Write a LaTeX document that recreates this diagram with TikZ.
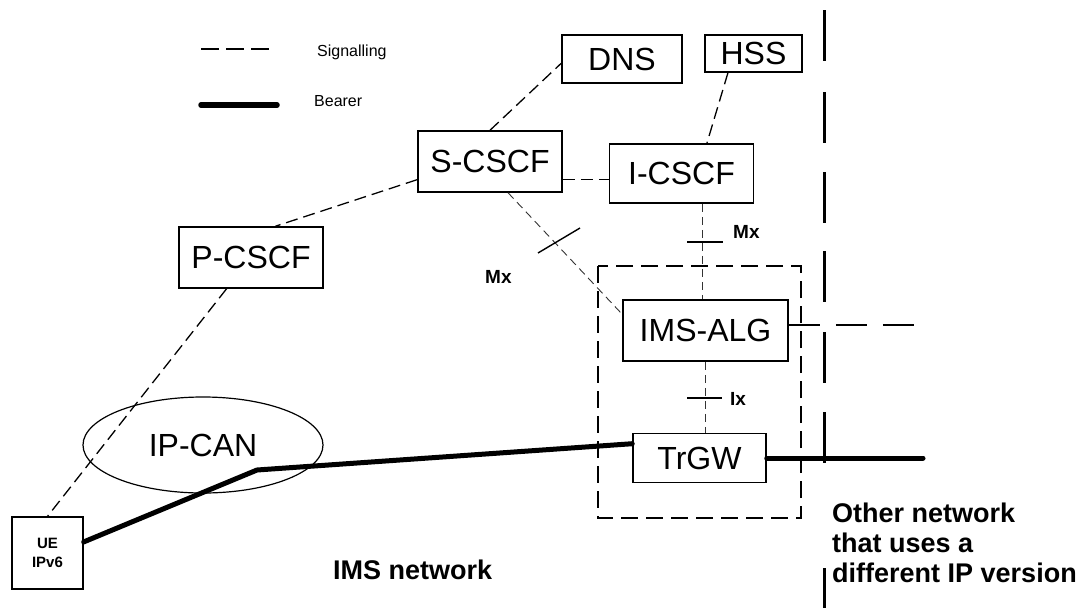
\documentclass[tikz,border=0pt]{standalone}
\usepackage{fontspec}
\setmainfont{Liberation Sans}
\usetikzlibrary{positioning, shapes.geometric, calc}
\tikzset{
box/.style={draw, line width=1.5pt, inner sep=0pt, font=\fontsize{32}{36}\selectfont}, % network elements
sig/.style={line width=1.3pt, dash pattern=on 12pt off 6pt}, % signalling links
thinsig/.style={line width=0.9pt, dash pattern=on 8pt off 5pt, black!80},
bearer/.style={line width=5pt, line cap=round}, % bearer path
tick/.style={line width=1.4pt},
iface/.style={font=\bfseries\fontsize{19}{22}\selectfont, inner sep=0pt, anchor=west},
bigtext/.style={font=\bfseries\fontsize{27}{30}\selectfont, inner sep=0pt, anchor=west},
legendtext/.style={font=\fontsize{16}{19}\selectfont, inner sep=0pt, anchor=west},
border/.style={line width=3pt},
}

\begin{document}
\begin{tikzpicture}[x=1pt, y=-1pt]
    \useasboundingbox (0,0) rectangle (1083,608);
    % legend
    \coordinate (siglegend) at (201,49);
    \coordinate (bearerlegend) at (201,105);
    \draw[sig, dash pattern=on 18pt off 7pt] (siglegend) -- ++(68,0);
    \draw[bearer, line width=5.5pt] (bearerlegend) -- ++(76,0);
    \node[legendtext] (sigtext) at (317,52) {Signalling};
    \node[legendtext] (bearertext) at (314,101) {Bearer};

    % network elements
    \node[box, minimum width=120pt, minimum height=48pt] (dns) at (622,59) {DNS};
    \node[box, minimum width=97pt, minimum height=37pt] (hss) at (753.5,53.5) {HSS};
    \node[box, minimum width=144pt, minimum height=61pt] (scscf) at (490,161.5) {S-CSCF};
    \node[box, minimum width=144pt, minimum height=59pt] (icscf) at (681.5,173.5) {I-CSCF};
    \node[box, minimum width=144pt, minimum height=61pt] (pcscf) at (251,257.5) {P-CSCF};
    \node[box, minimum width=165pt, minimum height=61pt] (alg) at (705.5,330.5) {IMS-ALG};
    \node[box, minimum width=133pt, minimum height=49pt] (trgw) at (699.5,458) {TrGW};
    \node[box, line width=1.3pt, minimum width=71pt, minimum height=72pt, align=center,
          font=\bfseries\fontsize{15}{19}\selectfont] (ue) at (47.5,553) {UE\\IPv6};
    \node[draw, ellipse, line width=1.2pt, inner sep=0pt, minimum width=240pt, minimum height=96pt,
          font=\fontsize{32}{36}\selectfont] (ipcan) at (203,445) {IP-CAN};

    % signalling
    \draw[sig] (scscf.194) -- (pcscf.52);
    \draw[sig] (scscf.north) -- (dns.184);
    \draw[sig] (scscf.-14) -- (scscf.-14 -| icscf.west);
    \draw[sig] (hss.217) -- (icscf.50);
    \draw[sig] (pcscf.232) -- (ue.north);
    \draw[thinsig] (scscf.300) -- (alg.169);
    \draw[thinsig] ([xshift=-3pt]alg.north |- icscf.south) -- ([xshift=-3pt]alg.north);
    \draw[thinsig] (alg.south) -- (alg.south |- trgw.north);
    \coordinate (algout) at (917,325);
    \draw[line width=1.3pt, dash pattern=on 31pt off 16pt] (alg.east |- algout) -- (algout);

    % bearer
    \coordinate (bend) at (257,470);
    \coordinate (farend) at (923,458);
    \draw[bearer] (ue.17) -- (bend) -- (trgw.168);
    \draw[bearer] (trgw.east) -- (farend);

    % interfaces
    \coordinate (mxa) at (705,242);
    \draw[tick] ([xshift=-18pt]mxa) -- ([xshift=18pt]mxa);
    \node[iface] (mxalabel) at (733,232) {Mx};
    \coordinate (mxb) at (559,240.5);
    \draw[tick] (mxb) ++(-21,12.5) -- ++(42,-25);
    \node[iface] (mxblabel) at (485,277) {Mx};
    \coordinate (ix) at (705,398);
    \draw[tick] ([xshift=-18pt]ix) -- ([xshift=17pt]ix);
    \node[iface] (ixlabel) at (730,399) {Ix};

    % IMS-ALG / TrGW grouping and network border
    \draw[line width=1.4pt, dash pattern=on 17pt off 8pt] (598,266) rectangle (801,518);
    \foreach \y in {10,92,172,251,332,412}
        \draw[border] (824,\y) -- ++(0,51);
    \draw[border] (824,568) -- (824,608);

    \node[bigtext] (imsnet) at (333,570) {IMS network};
    \node[bigtext, align=left] (othernet) at (832,543) {Other network\\that uses a\\different IP version};
\end{tikzpicture}
\end{document}
